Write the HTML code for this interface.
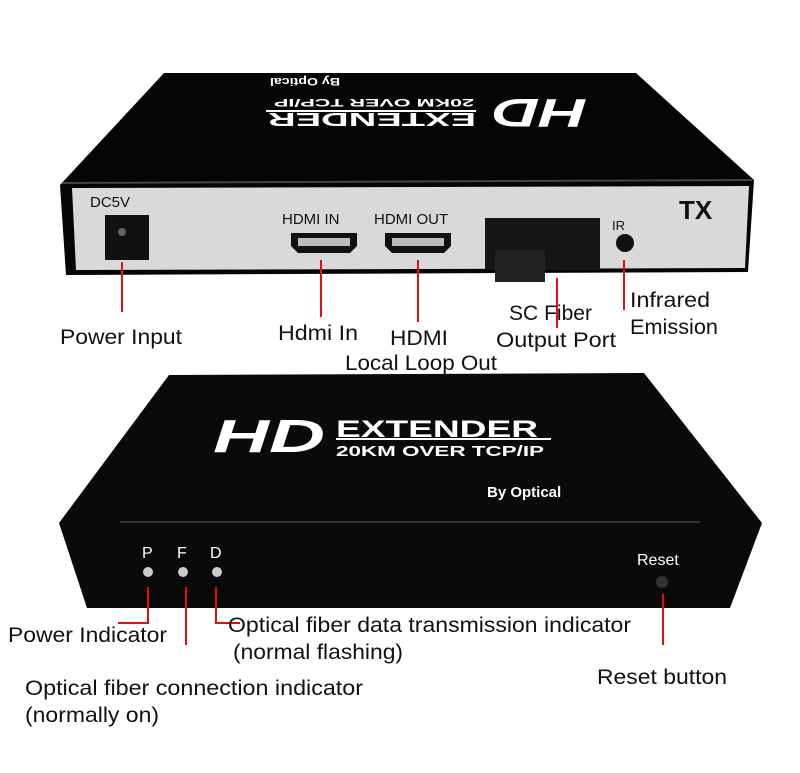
<!DOCTYPE html>
<html><head><meta charset="utf-8"><style>
html,body{margin:0;padding:0;background:#fff;width:800px;height:773px;overflow:hidden}
svg{display:block}
.l{font-family:"Liberation Sans",sans-serif;font-size:21px;fill:#111}
.s{font-family:"Liberation Sans",sans-serif;fill:#111}
.w{font-family:"Liberation Sans",sans-serif;fill:#fff;font-weight:bold}
.r{stroke:#e01010;stroke-width:2;fill:none}
</style></head><body>
<svg width="800" height="773" viewBox="0 0 800 773">
<!-- Top device -->
<polygon points="164,73 636,73 754,180 748,272 66,275 60,185" fill="#050505"/>
<polygon points="72,188 749,186 745,268 76,270" fill="#d9d9d9"/>
<line x1="62" y1="183" x2="752" y2="180" stroke="#444" stroke-width="2"/>
<g transform="rotate(180 427 110)">
<text x="267" y="121" class="w" font-size="40" font-style="italic" textLength="95" lengthAdjust="spacingAndGlyphs">HD</text>
<text x="378" y="107" class="w" font-size="18" textLength="208" lengthAdjust="spacingAndGlyphs">EXTENDER</text>
<line x1="378" y1="109" x2="588" y2="109" stroke="#fff" stroke-width="2"/>
<text x="380" y="121" class="w" font-size="11" textLength="200" lengthAdjust="spacingAndGlyphs">20KM OVER TCP/IP</text>
<text x="514" y="142" class="w" font-size="11" textLength="70" lengthAdjust="spacingAndGlyphs">By Optical</text>
</g>
<text x="90" y="207" class="s" font-size="15">DC5V</text>
<rect x="105" y="215" width="44" height="45" fill="#111"/>
<circle cx="122" cy="232" r="4" fill="#666"/>
<text x="282" y="224" class="s" font-size="15">HDMI IN</text>
<text x="374" y="224" class="s" font-size="15">HDMI OUT</text>
<path d="M291,233 H357 V246 L350,253 H298 L291,246 Z" fill="#111"/>
<path d="M385,233 H451 V246 L444,253 H392 L385,246 Z" fill="#111"/>
<rect x="298" y="238" width="52" height="8" fill="#bbb"/>
<rect x="392" y="238" width="52" height="8" fill="#bbb"/>
<rect x="485" y="218" width="115" height="52" fill="#151515"/>
<rect x="495" y="250" width="50" height="32" fill="#222"/>
<text x="612" y="230" class="s" font-size="13">IR</text>
<circle cx="625" cy="243" r="9" fill="#111"/>
<text x="679" y="219" class="s" font-size="26" font-weight="bold">TX</text>
<!-- Top lines & labels -->
<line class="r" x1="122" y1="262" x2="122" y2="312"/>
<line class="r" x1="321" y1="260" x2="321" y2="317"/>
<line class="r" x1="418" y1="260" x2="418" y2="322"/>
<line class="r" x1="557" y1="278" x2="557" y2="328"/>
<line class="r" x1="624" y1="260" x2="624" y2="310"/>
<text x="60" y="344" class="l" textLength="122" lengthAdjust="spacingAndGlyphs">Power Input</text>
<text x="278" y="340" class="l" textLength="80" lengthAdjust="spacingAndGlyphs">Hdmi In</text>
<text x="390" y="345" class="l" textLength="58" lengthAdjust="spacingAndGlyphs">HDMI</text>
<text x="345" y="370" class="l" textLength="152" lengthAdjust="spacingAndGlyphs">Local Loop Out</text>
<text x="509" y="320" class="l" textLength="83" lengthAdjust="spacingAndGlyphs">SC Fiber</text>
<text x="496" y="347" class="l" textLength="120" lengthAdjust="spacingAndGlyphs">Output Port</text>
<text x="630" y="307" class="l" textLength="80" lengthAdjust="spacingAndGlyphs">Infrared</text>
<text x="630" y="334" class="l" textLength="88" lengthAdjust="spacingAndGlyphs">Emission</text>
<!-- Bottom device -->
<polygon points="169,375 644,373 762,523 730,608 87,608 59,523" fill="#0a0a0a"/>
<line x1="120" y1="522" x2="700" y2="522" stroke="#333" stroke-width="2"/>
<text x="213" y="452" class="w" font-size="46" font-style="italic" textLength="112" lengthAdjust="spacingAndGlyphs">HD</text>
<text x="336" y="437" class="w" font-size="24" textLength="202" lengthAdjust="spacingAndGlyphs">EXTENDER</text>
<line x1="336" y1="439" x2="551" y2="439" stroke="#fff" stroke-width="2"/>
<text x="336" y="456" class="w" font-size="15" textLength="208" lengthAdjust="spacingAndGlyphs">20KM OVER TCP/IP</text>
<text x="487" y="497" class="w" font-size="15">By Optical</text>
<text x="142" y="558" class="s" font-size="16" style="fill:#fff">P</text>
<text x="177" y="558" class="s" font-size="16" style="fill:#fff">F</text>
<text x="210" y="558" class="s" font-size="16" style="fill:#fff">D</text>
<circle cx="148" cy="572" r="5" fill="#ccc"/>
<circle cx="183" cy="572" r="5" fill="#ccc"/>
<circle cx="217" cy="572" r="5" fill="#ccc"/>
<text x="637" y="565" class="s" font-size="16" style="fill:#fff">Reset</text>
<circle cx="662" cy="582" r="6" fill="#333"/>
<!-- Bottom lines & labels -->
<path class="r" d="M148,587 V623 H118"/>
<line class="r" x1="186" y1="587" x2="186" y2="645"/>
<path class="r" d="M216,587 V623 H240"/>
<line class="r" x1="663" y1="594" x2="663" y2="645"/>
<text x="8" y="642" class="l" textLength="159" lengthAdjust="spacingAndGlyphs">Power Indicator</text>
<text x="228" y="632" class="l" textLength="403" lengthAdjust="spacingAndGlyphs">Optical fiber data transmission indicator</text>
<text x="233" y="659" class="l" textLength="170" lengthAdjust="spacingAndGlyphs">(normal flashing)</text>
<text x="25" y="695" class="l" textLength="338" lengthAdjust="spacingAndGlyphs">Optical fiber connection indicator</text>
<text x="25" y="722" class="l" textLength="134" lengthAdjust="spacingAndGlyphs">(normally on)</text>
<text x="597" y="684" class="l" textLength="130" lengthAdjust="spacingAndGlyphs">Reset button</text>
</svg>
</body></html>
